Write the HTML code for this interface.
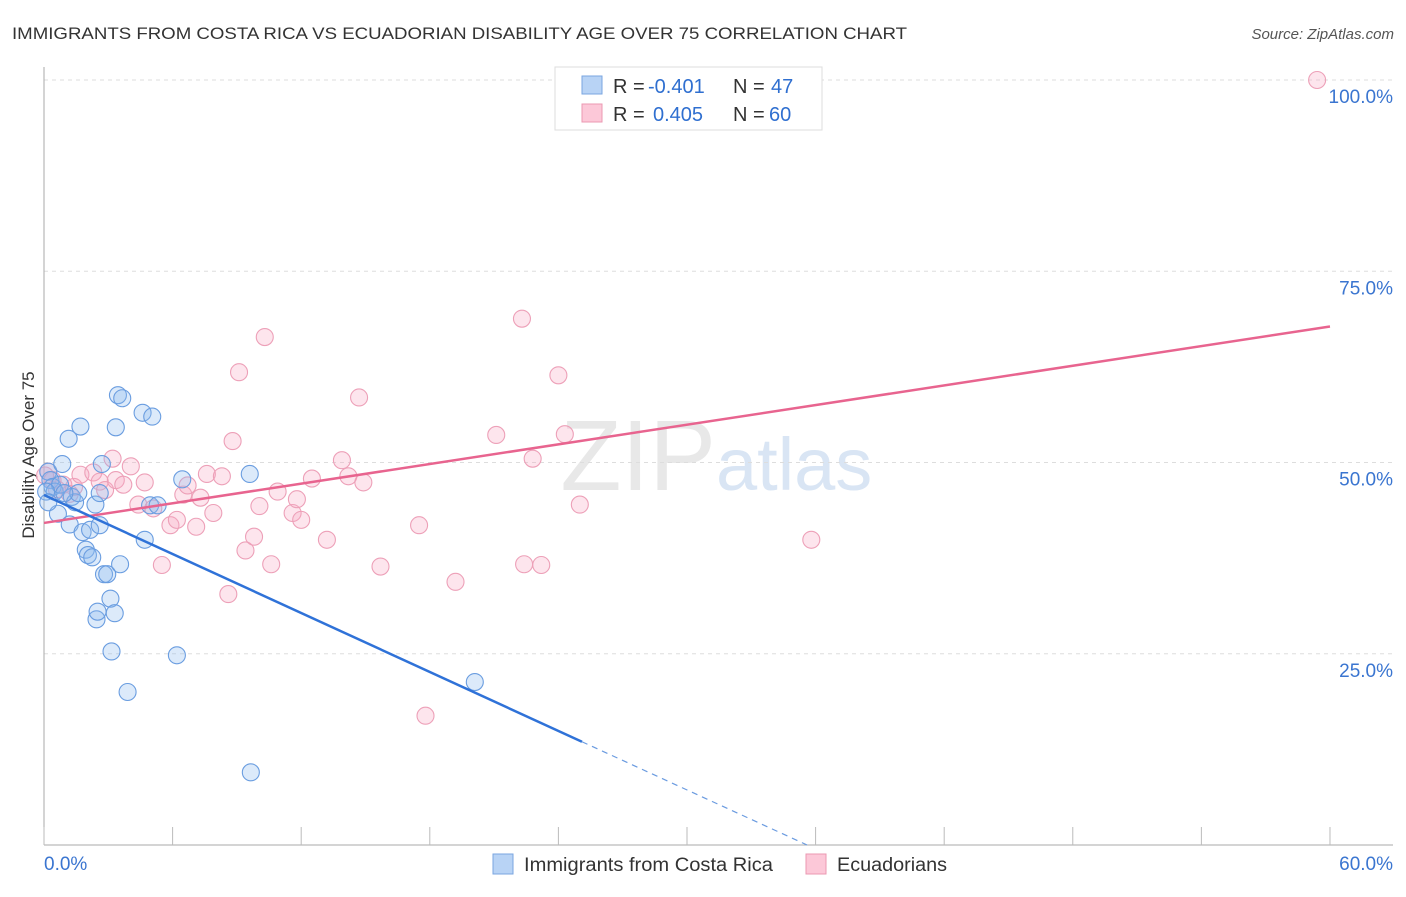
<!DOCTYPE html>
<html><head><meta charset="utf-8"><style>
body{margin:0;background:#fff;font-family:"Liberation Sans",sans-serif;}
svg text{font-family:"Liberation Sans",sans-serif;}
</style></head><body>
<svg width="1406" height="892" id="chart">
<text x="12" y="39" font-size="17" fill="#333" textLength="895" lengthAdjust="spacingAndGlyphs">IMMIGRANTS FROM COSTA RICA VS ECUADORIAN DISABILITY AGE OVER 75 CORRELATION CHART</text>
<text x="1394" y="39" font-size="15" fill="#555" font-style="italic" text-anchor="end">Source: ZipAtlas.com</text>
<text x="716" y="490" font-size="100" fill="#e8e8e8" text-anchor="end" font-family="Liberation Serif">ZIP</text>
<text x="716" y="490" font-size="74" fill="#d9e5f4">atlas</text>
<text transform="translate(34,455) rotate(-90)" font-size="17" fill="#333" text-anchor="middle">Disability Age Over 75</text>
<g id="grid"></g><g id="pts"></g><g id="lines"></g>
<g>
<rect x="555" y="67" width="267" height="63" fill="#fff" stroke="#ddd"/>
<rect x="582" y="76" width="20" height="18" fill="#b8d3f5" stroke="#7aa6e0"/>
<rect x="582" y="104" width="20" height="18" fill="#fcc8d8" stroke="#eb98b2"/>
<text x="613" y="93" font-size="20" fill="#333">R = <tspan fill="#2f6fd0" x="648">-0.401</tspan><tspan x="733">N = </tspan><tspan fill="#2f6fd0" x="771">47</tspan></text>
<text x="613" y="121" font-size="20" fill="#333">R = <tspan fill="#2f6fd0" x="653">0.405</tspan><tspan x="733">N = </tspan><tspan fill="#2f6fd0" x="769">60</tspan></text>
</g>
<g>
<rect x="493" y="854" width="20" height="20" fill="#b8d3f5" stroke="#7aa6e0"/>
<text x="524" y="871" font-size="19" fill="#333" textLength="249" lengthAdjust="spacingAndGlyphs">Immigrants from Costa Rica</text>
<rect x="806" y="854" width="20" height="20" fill="#fcc8d8" stroke="#eb98b2"/>
<text x="837" y="871" font-size="19" fill="#333" textLength="110" lengthAdjust="spacingAndGlyphs">Ecuadorians</text>
</g>
</svg>
<script>
const blueX=[0.2,0.3,0.4,0.5,0.75,0.65,0.85,1.15,1.2,1.3,1.45,1.6,1.7,1.8,1.95,2.05,2.15,2.25,2.4,2.45,2.5,2.6,2.7,2.8,2.95,3.1,3.15,3.3,3.35,3.45,3.55,3.65,3.9,4.6,4.7,5.05,4.95,5.3,6.2,6.45,9.6,9.65,20.1,0.1,0.95,0.2,2.6];
const blueY=[48.8,47.7,46.8,46.2,47.1,43.3,49.8,53.1,41.9,45.5,44.8,46,54.7,40.9,38.6,37.9,41.2,37.6,44.5,29.5,30.5,41.8,49.8,35.4,35.4,32.2,25.3,30.3,54.6,58.8,36.7,58.4,20,56.5,39.9,56,44.4,44.4,24.8,47.8,48.5,9.5,21.3,46.2,46,44.8,46];
const pinkX=[0.2,0.4,0.6,0.9,1.4,1.7,2.3,2.6,2.85,3.2,3.35,3.7,4.05,4.4,4.7,5.1,5.5,5.9,6.2,6.5,6.7,7.1,7.3,7.6,7.9,8.3,8.6,8.8,9.1,9.4,9.8,10.05,10.3,10.6,10.9,11.6,11.8,12,12.5,13.2,13.9,14.2,14.7,14.9,15.7,17.5,19.2,21.1,22.3,22.4,22.8,23.2,24,24.3,25,35.8,17.8,59.4,0.05,1.2];
const pinkY=[48.8,47.7,46.5,47.1,46.8,48.4,48.7,47.5,46.4,50.5,47.7,47.1,49.5,44.5,47.4,44,36.6,41.8,42.5,45.8,47,41.6,45.4,48.5,43.4,48.2,32.8,52.8,61.8,38.5,40.3,44.3,66.4,36.7,46.2,43.4,45.2,42.5,47.9,39.9,50.3,48.2,58.5,47.4,36.4,41.8,34.4,53.6,68.8,36.7,50.5,36.6,61.4,53.7,44.5,39.9,16.9,100,48.3,45.9];
const blueFit=[45.75,-1.285], pinkFit=[42.1,0.428];
const yTicks=[25,50,75,100];
const xTicks=[0,6,12,18,24,30,36,42,48,54,60];
const NS='http://www.w3.org/2000/svg';
const X=v=>44+v*21.433, Y=v=>845-v*7.65;
function mk(p,t,a){const e=document.createElementNS(NS,t);for(const k in a)e.setAttribute(k,a[k]);p.appendChild(e);return e;}
const g=document.getElementById('grid');
for(const t of yTicks){
 const l=mk(g,'line',{x1:44,x2:1393,y1:Y(t),y2:Y(t),stroke:'#ddd','stroke-dasharray':'4,4'});
 
 
 const tx=mk(g,'text',{x:1393,y:Y(t)+23,'font-size':19,fill:'#3a75d0','text-anchor':'end'});tx.textContent=t.toFixed(1)+'%';
 
 
}
mk(g,'line',{x1:44,x2:44,y1:67,y2:845,stroke:'#aaa'});
mk(g,'line',{x1:44,x2:1393,y1:845,y2:845,stroke:'#aaa'});
for(const t of xTicks){const l=mk(g,'line',{x1:X(t),x2:X(t),y1:827,y2:845,stroke:'#bbb'});
 
 }
const a=mk(g,'text',{x:44,y:870,'font-size':19,fill:'#3a75d0'});a.textContent='0.0%';


const b=mk(g,'text',{x:1393,y:870,'font-size':19,fill:'#3a75d0','text-anchor':'end'});b.textContent='60.0%';


const pg=document.getElementById('pts');
pinkX.forEach((x,i)=>{const c=mk(pg,'circle',{cx:X(x),cy:Y(pinkY[i]),r:8.5,fill:'rgba(248,170,195,0.3)',stroke:'#eda0b8','stroke-width':1.1});
 
 });
blueX.forEach((x,i)=>{const c=mk(pg,'circle',{cx:X(x),cy:Y(blueY[i]),r:8.5,fill:'rgba(140,185,240,0.3)',stroke:'#6a9de0','stroke-width':1.1});
 
 });
const lg=document.getElementById('lines');
const p=mk(lg,'line',{x1:X(0),y1:Y(pinkFit[0]),x2:X(60),y2:Y(pinkFit[0]+60*pinkFit[1]),stroke:'#e8648f','stroke-width':2.5});


const xs=25.1, xe=-blueFit[0]/blueFit[1];
const bl=mk(lg,'line',{x1:X(0),y1:Y(blueFit[0]),x2:X(xs),y2:Y(blueFit[0]+xs*blueFit[1]),stroke:'#2f72d8','stroke-width':2.5});


const bd=mk(lg,'line',{x1:X(xs),y1:Y(blueFit[0]+xs*blueFit[1]),x2:X(xe),y2:Y(0),stroke:'#6a9be0','stroke-width':1.2,'stroke-dasharray':'6,5'});


</script>
</body></html>
